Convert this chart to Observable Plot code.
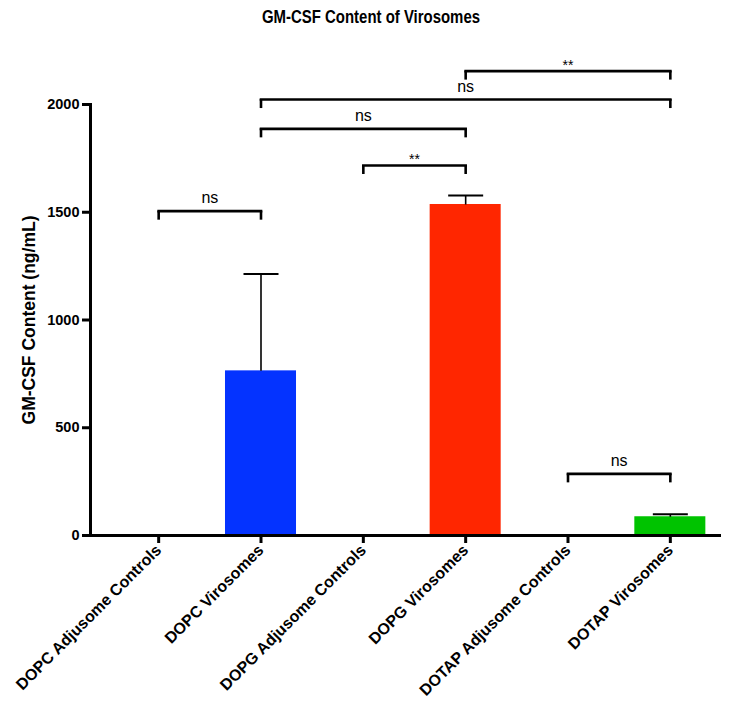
<!DOCTYPE html>
<html>
<head>
<meta charset="utf-8">
<script src="https://cdn.jsdelivr.net/npm/d3@7"></script>
<script src="https://cdn.jsdelivr.net/npm/@observablehq/plot@0.6"></script>
<style>
  html, body { margin: 0; padding: 0; background: #fff; }
  #wrap { position: relative; width: 730px; height: 703px; }
  #chart { position: absolute; top: 0; left: 0; z-index: 0; }
  #title {
    position: absolute; top: 7px; left: 171px; width: 400px; z-index: 1;
    text-align: center; font: bold 18px "Liberation Sans", Arial, sans-serif; color: #000;
    transform: scaleX(0.83); transform-origin: 50% 50%;
  }
</style>
</head>
<body>
<div id="wrap">
  <div id="chart"></div>
  <div id="title">GM-CSF Content of Virosomes</div>
</div>
<script>
// Groups on the x axis
const categories = [
  "DOPC Adjusome Controls",
  "DOPC Virosomes",
  "DOPG Adjusome Controls",
  "DOPG Virosomes",
  "DOTAP Adjusome Controls",
  "DOTAP Virosomes"
];
// Mean GM-CSF content (ng/mL) and upper error (SD)
const means = [0, 764, 0, 1536, 0, 87];
const errors = [0, 450, 0, 42, 0, 12];
const barColors = ["none", "#0433ff", "none", "#ff2600", "none", "#00c300"];
const yTicks = [0, 500, 1000, 1500, 2000];

// Pairwise comparisons drawn as significance brackets
const bracketFrom = ["DOPC Adjusome Controls", "DOPG Adjusome Controls", "DOPC Virosomes", "DOPC Virosomes", "DOPG Virosomes", "DOTAP Adjusome Controls"];
const bracketTo = ["DOPC Virosomes", "DOPG Virosomes", "DOPG Virosomes", "DOTAP Virosomes", "DOTAP Virosomes", "DOTAP Virosomes"];
const bracketLevel = [1505, 1717, 1887, 2023, 2155, 286];
const bracketLabel = ["ns", "**", "ns", "ns", "**", "ns"];

const rows = categories.map((name, i) => ({i, name, mean: means[i], err: errors[i], color: barColors[i]}));
const bars = rows.filter(d => d.mean > 0);

const brackets = bracketFrom.map((a, k) => {
  const i1 = categories.indexOf(a), i2 = categories.indexOf(bracketTo[k]);
  return {i1, i2, mid: (i1 + i2) / 2, level: bracketLevel[k], label: bracketLabel[k]};
});
const legs = brackets.flatMap(b => [{x: b.i1, level: b.level}, {x: b.i2, level: b.level}]);

const BAR_HALF = 0.347;  // half bar width, in category steps
const CAP_HALF = 0.171;  // half error-cap width

const font = "'Liberation Sans', Arial, Helvetica, sans-serif";

const chart = Plot.plot({
  width: 730,
  height: 703,
  marginTop: 104,
  marginBottom: 168,
  marginLeft: 90,
  marginRight: 9,
  style: {fontFamily: font, color: "#000", background: "transparent", overflow: "visible"},
  x: {type: "linear", domain: [-0.5, 5.5], insetLeft: 17},
  y: {domain: [0, 2000]},
  marks: [
    Plot.rect(bars, {x1: d => d.i - BAR_HALF, x2: d => d.i + BAR_HALF, y1: 0, y2: "mean", fill: "color"}),
    Plot.link(bars, {x1: "i", x2: "i", y1: "mean", y2: d => d.mean + d.err, stroke: "#000", strokeWidth: 1.6}),
    Plot.link(bars, {
      x1: d => d.i - CAP_HALF, x2: d => d.i + CAP_HALF,
      y1: d => d.mean + d.err, y2: d => d.mean + d.err,
      stroke: "#000", strokeWidth: 2
    }),
    Plot.ruleY([0], {stroke: "#000", strokeWidth: 3}),
    Plot.frame({anchor: "left", stroke: "#000", strokeWidth: 3}),
    Plot.axisY({
      ticks: yTicks, tickFormat: d => String(d), tickSize: 8, tickPadding: 3,
      fontSize: 14.5, fontWeight: "bold", stroke: "#000", strokeWidth: 3, label: null
    }),
    Plot.axisX({
      ticks: categories.map((_, i) => i), tickFormat: i => categories[i],
      tickRotate: -45, tickSize: 8, tickPadding: 4, fontSize: 16, fontWeight: "bold",
      stroke: "#000", strokeWidth: 3, label: null
    }),
    Plot.text(["GM-CSF Content (ng/mL)"], {
      frameAnchor: "left", dx: -61, rotate: -90, textAnchor: "middle",
      fontSize: 17.5, fontWeight: "bold", fill: "#000"
    }),
    // significance brackets
    Plot.link(brackets, {x1: "i1", x2: "i2", y1: "level", y2: "level", stroke: "#000", strokeWidth: 2.6, strokeLinecap: "square"}),
    Plot.ruleX(legs, {x: "x", y1: "level", y2: "level", insetTop: 9, stroke: "#000", strokeWidth: 2.6}),
    Plot.text(brackets.filter(b => b.label === "ns"), {
      x: "mid", y: "level", text: "label", lineAnchor: "bottom", dy: -8, fontSize: 16, fill: "#000"
    }),
    Plot.text(brackets.filter(b => b.label !== "ns"), {
      x: "mid", y: "level", text: "label", lineAnchor: "bottom", dy: -1, fontSize: 14, fill: "#000"
    })
  ]
});

document.getElementById("chart").appendChild(chart);
</script>
</body>
</html>
